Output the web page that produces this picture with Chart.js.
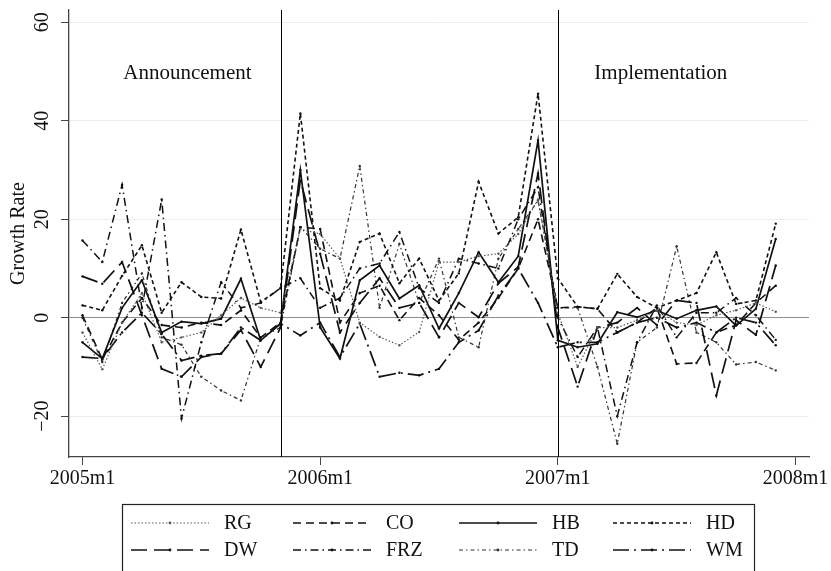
<!DOCTYPE html>
<html>
<head>
<meta charset="utf-8">
<script src="https://cdn.jsdelivr.net/npm/chart.js@4.4.1/dist/chart.umd.min.js"></script>
<style>
  html, body { margin: 0; padding: 0; background: #fff; }
  #wrap { width: 831px; height: 571px; }
</style>
</head>
<body>
<div id="wrap"><canvas id="growthChart" width="831" height="571"></canvas></div>
<script>
// months 2005m1 .. 2007m12
const months = [
  "2005m1", "2005m2", "2005m3", "2005m4", "2005m5", "2005m6", "2005m7", "2005m8", "2005m9", "2005m10", "2005m11", "2005m12",
  "2006m1", "2006m2", "2006m3", "2006m4", "2006m5", "2006m6", "2006m7", "2006m8", "2006m9", "2006m10", "2006m11", "2006m12",
  "2007m1", "2007m2", "2007m3", "2007m4", "2007m5", "2007m6", "2007m7", "2007m8", "2007m9", "2007m10", "2007m11", "2007m12"
];

const seriesNames = ["RG", "CO", "HB", "HD", "DW", "FRZ", "TD", "WM"];

const rg = [-3, -10.5, -1, 5, -5, -4, -3, 0.5, 4, 2, 1, 18, 17, 12, -1, -3.9, -5.6, -2.9, 11.3, 11.3, 12.5, 13, 17, 24, 1, -10, -2, -2, -0.5, 1.5, -1, -1.5, 0.5, 1.5, 3, 1.2];
const co = [0.5, -8.5, -1, 4, -1.5, -2, -1, -1.5, 1.5, -4, -1, 18.4, 18, -1, 5, 6.5, -0.5, 4, 0.5, -4.5, -1, 4, 10, 20, 2, 2.2, 1.8, -3, -1, 2, -9.4, -9.2, -3, -1.5, 3, 6.5];
const hb = [-5, -8.3, 2, 7.6, -3, -0.8, -1.2, -0.2, 7.9, -4.6, -1.2, 30, -2, -8.3, 7.6, 10.6, 3.9, 6.6, -2.2, 5, 13.3, 7.2, 12.5, 36, -4.6, -6, -5.3, 1.1, 0.1, 1.5, -0.2, 1.5, 2.3, -1.6, 1.8, 16];
const hd = [2.5, 1.5, 8.5, 14.7, 1, 7.2, 4.2, 3.9, 17.9, 3.2, 6, 41.5, 6, 3.5, 15.4, 17.1, 7, 12, 3.5, 9, 27.6, 17.1, 20.4, 45.5, 8, 2.2, 1.8, 8.9, 4.2, 2, 3.5, 5, 13.3, 2.8, 3.5, 19.1];
const dw = [8.4, 6.9, 11.3, 0.5, -10.4, -12, -8, -7.3, -2.5, -10, -2, 27.9, 13, -3, 3, 8, 2, 3, -4, 3, 0.1, 7, 10.3, 29.3, -2, -14, -2, -1, 2, -1.5, 3.5, 3, -15.8, -0.5, -3.5, 10.6];
const frz = [15.7, 11.3, 27, 2, 24, -20.5, -5, 7.2, 2, 3, 6, 8, 2, 4, 10, 11, 17.4, 6, 3, 12, 11, 10, 20, 26.5, 0, -8, -2, -20, -5, 2.5, -4, 1, 1, 4, 0.5, -4.5];
const td = [0, -9, 3, 9, -4, -5.5, -12, -14.8, -16.8, -4, -2, 18.4, 14, 12, 30.8, 2, 15, 3, 12, -4, -6, 12, 18, 23.8, 2, 2, -10, -25.6, -5, -2, 14.5, -3, -5, -9.5, -9, -10.7];
const wm = [-8, -8.3, -3, 1, -3.3, -8.7, -7.7, -7.3, -2, -4.6, -1.2, -3.6, -1, -8, -1.2, -12, -11.2, -11.7, -10.4, -5, -2.6, 4.5, 10, 3, -6, -5, -5, -3, -1, 0, -2, -1, -3, 0, -1, -5.6];

const tickLabels = ["2005m1", "2006m1", "2007m1", "2008m1"];
const yTicks = [-20, 0, 20, 40, 60];
const phaseLabels = ["Announcement", "Implementation"];
const phaseStarts = ["2005m11", "2007m1"];

const serif = "'Liberation Serif', 'Times New Roman', serif";
const allValues = [rg, co, hb, hd, dw, frz, td, wm];

// line look per series (stata-ish patterns, all black)
const looks = [
  { color: "#5a5a5a", width: 1.2, dash: [1.5, 2] },
  { color: "#111", width: 1.6, dash: [8, 5] },
  { color: "#111", width: 1.7, dash: [] },
  { color: "#111", width: 1.6, dash: [4, 3] },
  { color: "#111", width: 1.7, dash: [16, 7] },
  { color: "#111", width: 1.5, dash: [8, 4, 1.5, 4] },
  { color: "#333", width: 1.2, dash: [4, 3, 1.5, 3] },
  { color: "#111", width: 1.7, dash: [16, 5, 2, 5] }
];

const datasets = seriesNames.map((name, k) => ({
  label: name,
  data: months.map((m, i) => ({ x: i, y: allValues[k][i] })),
  borderColor: looks[k].color,
  borderWidth: looks[k].width,
  borderDash: looks[k].dash,
  pointRadius: 1.2,
  pointBackgroundColor: looks[k].color,
  pointBorderWidth: 0,
  tension: 0,
  fill: false
}));

const phasePlugin = {
  id: "phases",
  afterDatasetsDraw(chart) {
    const { ctx, chartArea, scales: { x, y } } = chart;
    ctx.save();
    ctx.strokeStyle = "#000";
    ctx.lineWidth = 1;
    phaseStarts.forEach(m => {
      const px = Math.round(x.getPixelForValue(months.indexOf(m))) + 0.5;
      ctx.beginPath();
      ctx.moveTo(px, chartArea.top);
      ctx.lineTo(px, chartArea.bottom);
      ctx.stroke();
    });
    ctx.font = "21px " + serif;
    ctx.fillStyle = "#111";
    ctx.textAlign = "center";
    ctx.textBaseline = "alphabetic";
    ctx.fillText(phaseLabels[0], x.getPixelForValue(5.3), y.getPixelForValue(48.4));
    ctx.fillText(phaseLabels[1], x.getPixelForValue(29.2), y.getPixelForValue(48.4));
    ctx.restore();
  }
};

// boxed legend, 4 columns x 2 rows like the stata one
const legendPlugin = {
  id: "boxLegend",
  afterDraw(chart) {
    const ctx = chart.ctx;
    const colX = [131, 293, 459, 613];
    const rowY = [523, 550];
    ctx.save();
    ctx.strokeStyle = "#222";
    ctx.lineWidth = 1.2;
    ctx.strokeRect(122.5, 504.5, 632, 90);
    ctx.font = "20px " + serif;
    ctx.fillStyle = "#111";
    ctx.textBaseline = "middle";
    ctx.textAlign = "left";
    chart.data.datasets.forEach((ds, k) => {
      const x0 = colX[k % 4];
      const yy = rowY[Math.floor(k / 4)];
      ctx.strokeStyle = ds.borderColor;
      ctx.lineWidth = ds.borderWidth;
      ctx.setLineDash(ds.borderDash);
      ctx.beginPath();
      ctx.moveTo(x0, yy);
      ctx.lineTo(x0 + 78, yy);
      ctx.stroke();
      ctx.setLineDash([]);
      ctx.fillStyle = ds.borderColor;
      ctx.beginPath();
      ctx.arc(x0 + 39, yy, 1.4, 0, Math.PI * 2);
      ctx.fill();
      ctx.fillStyle = "#111";
      ctx.fillText(ds.label, x0 + 93, yy + 1);
    });
    ctx.restore();
  }
};

new Chart(document.getElementById("growthChart"), {
  type: "line",
  data: { datasets },
  options: {
    responsive: false,
    animation: false,
    devicePixelRatio: 1,
    layout: { padding: { top: 10, right: 22, bottom: 67, left: 0 } },
    plugins: {
      legend: { display: false },
      tooltip: { enabled: false }
    },
    scales: {
      x: {
        type: "linear",
        min: -0.68,
        max: 36.68,
        afterBuildTicks: s => { s.ticks = [0, 12, 24, 36].map(v => ({ value: v })); },
        afterFit: s => { s.height = 47; s.paddingLeft = 0; s.paddingRight = 0; },
        border: { color: "#444", width: 1.3 },
        grid: { drawOnChartArea: false, color: "#444", tickLength: 8 },
        ticks: {
          minRotation: 0, maxRotation: 0, autoSkip: false, padding: 2,
          color: "#111",
          font: { family: serif, size: 20 },
          callback: (v, i) => tickLabels[i]
        }
      },
      y: {
        min: -28.3,
        max: 62.5,
        afterBuildTicks: s => { s.ticks = yTicks.map(v => ({ value: v })); },
        afterFit: s => { s.width = 69; s.paddingTop = 0; s.paddingBottom = 0; },
        border: { color: "#444", width: 1.3 },
        grid: {
          color: c => (c.tick && c.tick.value === 0 ? "#8f8f8f" : "#e7eff0"),
          tickColor: "#444",
          tickLength: 8,
          lineWidth: 1
        },
        ticks: {
          minRotation: 90, maxRotation: 90, crossAlign: "center", padding: 3,
          color: "#111",
          font: { family: serif, size: 20 },
          callback: v => String(v).replace("-", "\u2212")
        },
        title: {
          display: true,
          text: "Growth Rate",
          color: "#111",
          font: { family: serif, size: 20 },
          padding: { top: 7, bottom: 0 }
        }
      }
    }
  },
  plugins: [phasePlugin, legendPlugin]
});
</script>
</body>
</html>
